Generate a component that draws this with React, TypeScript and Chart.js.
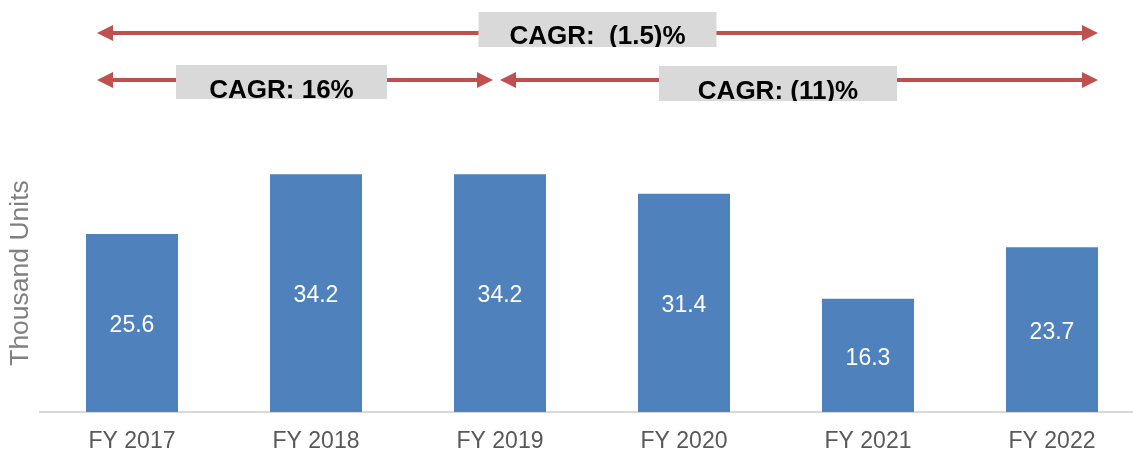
import React, { useEffect, useRef } from "react";
import { Chart, registerables } from "chart.js";

Chart.register(...registerables);

const categories = ["FY 2017", "FY 2018", "FY 2019", "FY 2020", "FY 2021", "FY 2022"];
const unitsValues = [25.6, 34.2, 34.2, 31.4, 16.3, 23.7];
const yAxisTitle = "Thousand Units";
const cagrLabels = ["CAGR:  (1.5)%", "CAGR: 16%", "CAGR: (11)%"];

const FONT = "'Liberation Sans', Arial, sans-serif";

const valueLabelPlugin = {
  id: "valueLabels",
  afterDatasetsDraw(chart: any) {
    const ctx = chart.ctx;
    const meta = chart.getDatasetMeta(0);
    ctx.save();
    ctx.fillStyle = "#ffffff";
    ctx.font = `23px ${FONT}`;
    ctx.textAlign = "center";
    ctx.textBaseline = "middle";
    meta.data.forEach((bar: any, i: number) => {
      const v = chart.data.datasets[0].data[i];
      ctx.fillText(String(v.toFixed(1)), bar.x, (bar.y + bar.base) / 2 + 3);
    });
    ctx.restore();
  },
};

const yTitlePlugin = {
  id: "yTitle",
  afterDraw(chart: any) {
    const ctx = chart.ctx;
    const { top, bottom } = chart.chartArea;
    ctx.save();
    ctx.translate(21, (top + bottom) / 2);
    ctx.rotate(-Math.PI / 2);
    ctx.fillStyle = "#808080";
    ctx.font = `26.5px ${FONT}`;
    ctx.textAlign = "center";
    ctx.textBaseline = "middle";
    ctx.fillText(yAxisTitle, 0, 0);
    ctx.restore();
  },
};

function drawArrow(ctx: CanvasRenderingContext2D, x1: number, x2: number, y: number) {
  const head = 16;
  const half = 8;
  ctx.strokeStyle = "#c0504d";
  ctx.fillStyle = "#c0504d";
  ctx.lineWidth = 4;
  ctx.beginPath();
  ctx.moveTo(x1 + head - 2, y);
  ctx.lineTo(x2 - head + 2, y);
  ctx.stroke();
  ctx.beginPath();
  ctx.moveTo(x1, y);
  ctx.lineTo(x1 + head, y - half);
  ctx.lineTo(x1 + head, y + half);
  ctx.closePath();
  ctx.fill();
  ctx.beginPath();
  ctx.moveTo(x2, y);
  ctx.lineTo(x2 - head, y - half);
  ctx.lineTo(x2 - head, y + half);
  ctx.closePath();
  ctx.fill();
}

const cagrPlugin = {
  id: "cagr",
  afterDraw(chart: any) {
    const ctx = chart.ctx;
    const x = chart.scales.x;
    const c0 = x.getPixelForValue(0);
    const c2 = x.getPixelForValue(2);
    const c5 = x.getPixelForValue(5);
    const half = x.getPixelForValue(1) - c0;
    const leftX = c0 - 35;
    const rightX = c5 + half / 4;
    const rows = [
      { label: cagrLabels[0], x1: leftX, x2: rightX, y: 33, bx: (leftX + rightX) / 2, bw: 238, bt: 12, bb: 47, tb: 44 },
      { label: cagrLabels[1], x1: leftX, x2: c2 - 7, y: 80, bx: 281.5, bw: 211, bt: 65, bb: 99, tb: 98 },
      { label: cagrLabels[2], x1: c2, x2: rightX, y: 80, bx: 778, bw: 238, bt: 66, bb: 101, tb: 99 },
    ];
    ctx.save();
    rows.forEach((r) => {
      drawArrow(ctx, r.x1, r.x2, r.y);
    });
    rows.forEach((r) => {
      ctx.fillStyle = "#d9d9d9";
      ctx.fillRect(r.bx - r.bw / 2, r.bt, r.bw, r.bb - r.bt);
      ctx.save();
      ctx.beginPath();
      ctx.rect(r.bx - r.bw / 2, r.bt, r.bw, r.bb - r.bt);
      ctx.clip();
      ctx.fillStyle = "#000000";
      ctx.font = `bold 26px ${FONT}`;
      ctx.textAlign = "center";
      ctx.textBaseline = "alphabetic";
      ctx.fillText(r.label, r.bx, r.tb);
      ctx.restore();
    });
    ctx.restore();
  },
};

export default function App() {
  const ref = useRef<HTMLCanvasElement | null>(null);
  useEffect(() => {
    if (!ref.current) return;
    const chart = new Chart(ref.current, {
      type: "bar",
      data: {
        labels: categories,
        datasets: [
          {
            data: unitsValues,
            backgroundColor: "#4f81bd",
            borderWidth: 0,
            barPercentage: 0.5,
            categoryPercentage: 1,
          },
        ],
      },
      options: {
        animation: false,
        responsive: false,
        maintainAspectRatio: false,
        devicePixelRatio: 1,
        layout: { padding: { left: 40, top: 134, right: 6, bottom: 0 } },
        plugins: {
          legend: { display: false },
          tooltip: { enabled: false },
          title: { display: false },
        },
        scales: {
          x: {
            grid: { display: false, drawTicks: false },
            border: { display: true, color: "#d9d9d9", width: 2 },
            ticks: {
              color: "#595959",
              font: { family: FONT, size: 23 },
              padding: 16,
              maxRotation: 0,
            },
            afterFit: (scale: any) => {
              scale.height = 40;
            },
          },
          y: {
            display: false,
            min: 0,
            max: 40,
          },
        },
      },
      plugins: [valueLabelPlugin, yTitlePlugin, cagrPlugin],
    });
    return () => chart.destroy();
  }, []);
  return (
    <div style={{ position: "absolute", left: 0, top: 0, width: 1133, height: 452, overflow: "hidden", background: "#ffffff" }}>
      <canvas ref={ref} width={1150} height={452} style={{ display: "block", width: 1150, height: 452 }} />
    </div>
  );
}
